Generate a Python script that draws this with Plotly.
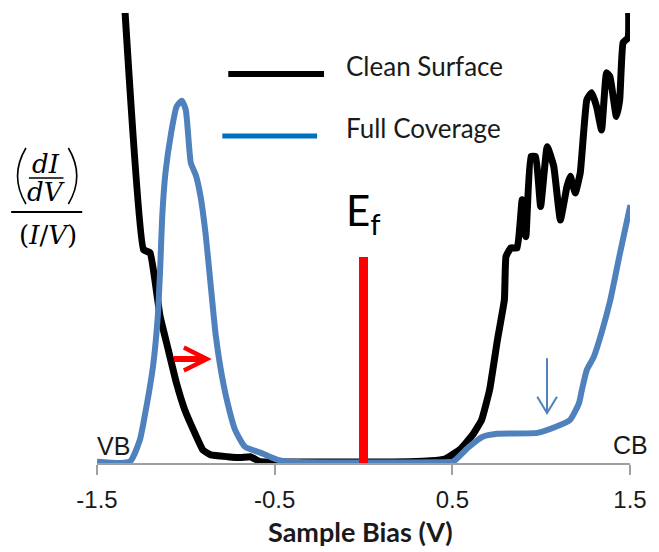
import plotly.graph_objects as go

# ---------------- data (sample bias in V, normalized conductance in arbitrary units) ----------------
clean_bias = [-1.345, -1.238, -1.201, -1.145, -1.099, -1.053, -1.006, -0.950, -0.904, -0.860,
              -0.765, -0.693, -0.637, -0.582, -0.505, -0.376, -0.153, 0.070, 0.253, 0.376,
              0.459, 0.543, 0.615, 0.665, 0.710, 0.754, 0.793, 0.802, 0.830, 0.865,
              0.893, 0.914, 0.942, 0.969, 0.997, 1.034, 1.071, 1.108, 1.145, 1.164,
              1.192, 1.220, 1.257, 1.284, 1.312, 1.340, 1.368, 1.387, 1.423, 1.442,
              1.461, 1.489, 1.492]
clean_signal = [10.2, 4.74, 4.67, 3.26, 2.52, 1.78, 1.18, 0.67, 0.29, 0.18,
                0.14, 0.12, 0.14, 0.03, 0.02, 0.02, 0.02, 0.02, 0.03, 0.05,
                0.09, 0.30, 0.63, 0.96, 1.63, 2.74, 3.63, 4.59, 4.78, 4.78,
                5.85, 5.03, 6.81, 6.81, 5.70, 7.03, 6.59, 5.40, 6.14, 6.37,
                6.00, 6.45, 8.07, 8.23, 7.92, 7.40, 8.67, 8.59, 7.70, 8.07,
                9.34, 9.45, 10.2]

full_bias = [-1.500, -1.315, -1.259, -1.232, -1.185, -1.158, -1.144, -1.133, -1.115, -1.083,
             -1.052, -1.022, -1.000, -0.972, -0.944, -0.917, -0.889, -0.861, -0.833, -0.806,
             -0.769, -0.722, -0.667, -0.574, -0.482, -0.371, 0.485, 0.506, 0.588, 0.668,
             0.752, 0.979, 1.079, 1.163, 1.213, 1.229, 1.257, 1.296, 1.341, 1.389,
             1.444, 1.502]
full_signal = [0.03, 0.03, 0.51, 1.03, 2.14, 3.25, 4.36, 5.47, 6.44, 7.33,
               7.92, 8.05, 7.84, 6.67, 6.40, 5.92, 5.10, 3.99, 2.88, 2.14,
               1.40, 0.73, 0.36, 0.22, 0.07, 0.02, 0.02, 0.03, 0.34, 0.58,
               0.65, 0.67, 0.80, 0.96, 1.33, 1.62, 2.07, 2.36, 2.91, 3.62,
               4.67, 5.73]

tick_vals = [-1.5, -0.5, 0.5, 1.5]
tick_text = ["-1.5", "-0.5", "0.5", "1.5"]
series_names = ["Clean Surface", "Full Coverage"]
fermi_level = 0.0
fermi_marker_height = 4.58

W, H = 659, 552
L, R, T, B = 97, 22, 13, 89
PW, PH = W - L - R, H - T - B


def px(xp):
    return (xp - L) / PW


def py(yp):
    return (H - B - yp) / PH


fig = go.Figure()
fig.add_trace(go.Scatter(x=clean_bias, y=clean_signal, mode="lines", name=series_names[0],
                         line=dict(color="black", width=7, shape="spline", smoothing=0.35),
                         showlegend=False))
fig.add_trace(go.Scatter(x=full_bias, y=full_signal, mode="lines", name=series_names[1],
                         line=dict(color="#4f81bd", width=6, shape="spline", smoothing=0.5),
                         showlegend=False))

shapes = []
# Fermi level marker
shapes.append(dict(type="line", xref="x", yref="y", x0=fermi_level, x1=fermi_level,
                   y0=0, y1=fermi_marker_height, line=dict(color="#ff0000", width=9)))
# thin blue down arrow
shapes.append(dict(type="line", xref="x", yref="y", x0=1.033, x1=1.033, y0=2.33, y1=1.11,
                   line=dict(color="#4f81bd", width=2)))
shapes.append(dict(type="path", xref="x", yref="y",
                   path="M 0.978,1.47 L 1.033,1.11 L 1.089,1.47",
                   line=dict(color="#4f81bd", width=2)))
# legend lines
shapes.append(dict(type="line", xref="paper", yref="paper", x0=px(230), x1=px(327),
                   y0=py(74), y1=py(74), line=dict(color="black", width=6)))
shapes.append(dict(type="line", xref="paper", yref="paper", x0=px(224), x1=px(320),
                   y0=py(136), y1=py(136), line=dict(color="#0070c0", width=5)))
# y-axis title fraction parts
shapes.append(dict(type="path", xref="paper", yref="paper",
                   path=f"M {px(25)},{py(148)} Q {px(8)},{py(176)} {px(25)},{py(204)}",
                   line=dict(color="black", width=1.6)))
shapes.append(dict(type="path", xref="paper", yref="paper",
                   path=f"M {px(68)},{py(148)} Q {px(85)},{py(176)} {px(68)},{py(204)}",
                   line=dict(color="black", width=1.6)))
shapes.append(dict(type="line", xref="paper", yref="paper", x0=px(28), x1=px(63),
                   y0=py(178), y1=py(178), line=dict(color="black", width=1.5)))
shapes.append(dict(type="line", xref="paper", yref="paper", x0=px(10), x1=px(82),
                   y0=py(212), y1=py(212), line=dict(color="black", width=1.8)))

ann = []
serif_it = dict(family="DejaVu Serif", size=26, color="black")
ann.append(dict(xref="paper", yref="paper", x=px(45), y=py(164), text="<i>dI</i>",
                showarrow=False, font=serif_it, xanchor="center", yanchor="middle"))
ann.append(dict(xref="paper", yref="paper", x=px(45), y=py(192), text="<i>dV</i>",
                showarrow=False, font=serif_it, xanchor="center", yanchor="middle"))
ann.append(dict(xref="paper", yref="paper", x=px(47), y=py(235), text="(<i>I</i>/<i>V</i>)",
                showarrow=False, font=serif_it, xanchor="center", yanchor="middle"))
# legend text
leg_font = dict(family="Lato", size=26, color="#1a1a1a")
ann.append(dict(xref="paper", yref="paper", x=px(347), y=py(66), text=series_names[0],
                showarrow=False, font=leg_font, xanchor="left", yanchor="middle"))
ann.append(dict(xref="paper", yref="paper", x=px(347), y=py(128), text=series_names[1],
                showarrow=False, font=leg_font, xanchor="left", yanchor="middle"))
# E_f label
ann.append(dict(xref="x", yref="y", x=0.0, y=5.55, text="E<sub>f</sub>", showarrow=False,
                font=dict(family="Lato", size=42, color="black"), xanchor="center", yanchor="middle"))
# VB / CB
band_font = dict(family="Liberation Sans", size=25, color="#1a1a1a")
ann.append(dict(xref="paper", yref="paper", x=px(114), y=py(446), text="VB", showarrow=False,
                font=band_font, xanchor="center", yanchor="middle"))
ann.append(dict(xref="paper", yref="paper", x=px(638), y=py(445), text="CB", showarrow=False,
                font=band_font, xanchor="center", yanchor="middle"))
# red shift arrow
ann.append(dict(xref="x", yref="y", axref="x", ayref="y", x=-0.854, y=2.31, ax=-1.076, ay=2.31,
                text="", showarrow=True, arrowhead=5, arrowwidth=6, arrowsize=0.75,
                arrowcolor="#ff0000", standoff=0))
# x axis title
ann.append(dict(xref="paper", yref="paper", x=px(364), y=py(531), text="<b>Sample Bias (V)</b>",
                showarrow=False, font=dict(family="Lato", size=27, color="#1a1a1a"),
                xanchor="center", yanchor="middle"))

fig.update_layout(
    width=W, height=H,
    margin=dict(l=L, r=R, t=T, b=B, pad=0),
    paper_bgcolor="white", plot_bgcolor="white",
    shapes=shapes, annotations=ann,
    showlegend=False,
    xaxis=dict(range=[-1.5, 1.5], tickvals=tick_vals, ticktext=tick_text,
               showgrid=False, zeroline=False, showline=True, linecolor="#a0a0a0", linewidth=1.5,
               ticks="outside", ticklen=10, tickcolor="#a0a0a0", tickwidth=1.5,
               tickfont=dict(family="Liberation Sans", size=24, color="#1a1a1a"),
               ticklabelstandoff=4),
    yaxis=dict(range=[0, 10], visible=False, showgrid=False, zeroline=False),
)

fig.write_html("out.html")
